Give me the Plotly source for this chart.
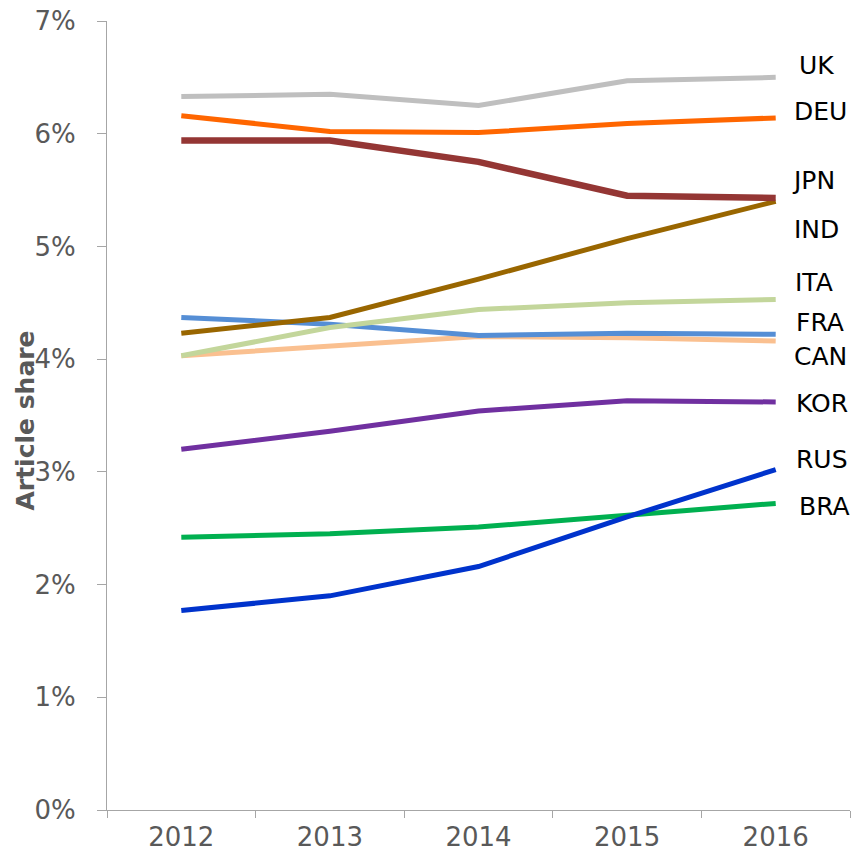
import plotly.graph_objects as go

# Article share by country, 2012-2016 (percent)
years = ["2012", "2013", "2014", "2015", "2016"]

uk = [6.33, 6.35, 6.25, 6.47, 6.50]
deu = [6.16, 6.02, 6.01, 6.09, 6.14]
jpn = [5.94, 5.94, 5.75, 5.45, 5.43]
ind = [4.23, 4.37, 4.71, 5.07, 5.40]
ita = [4.03, 4.28, 4.44, 4.50, 4.53]
fra = [4.37, 4.31, 4.21, 4.23, 4.22]
can = [4.03, 4.12, 4.20, 4.19, 4.16]
kor = [3.20, 3.36, 3.54, 3.63, 3.62]
rus = [1.77, 1.90, 2.16, 2.60, 3.02]
bra = [2.42, 2.45, 2.51, 2.61, 2.72]

y_ticks = [0, 1, 2, 3, 4, 5, 6, 7]
y_tick_labels = ["0%", "1%", "2%", "3%", "4%", "5%", "6%", "7%"]

# name, values, colour, line width, label shift (px: x, y)
series = [
    ("CAN", can, "#FAC090", 5, 16, -15),
    ("FRA", fra, "#558ED5", 5, 18, 12),
    ("ITA", ita, "#C3D69B", 5, 17, 17),
    ("IND", ind, "#996600", 5, 16, -28),
    ("KOR", kor, "#7030A0", 5, 18, -2),
    ("BRA", bra, "#00B050", 5, 21, -3),
    ("RUS", rus, "#0033CC", 5, 18, 10),
    ("UK", uk, "#BFBFBF", 5, 21, 12),
    ("DEU", deu, "#FF6600", 5, 16, 6),
    ("JPN", jpn, "#943634", 6.5, 14, 17),
]

fig = go.Figure()
annotations = []
last_idx = len(years) - 1
for name, vals, color, width, xshift, yshift in series:
    fig.add_trace(go.Scatter(
        x=years, y=vals, mode="lines", name=name,
        line=dict(color=color, width=width),
        hoverinfo="skip",
    ))
    annotations.append(dict(
        x=last_idx, y=vals[-1], xref="x", yref="y",
        text=name, showarrow=False, xanchor="left", yanchor="middle",
        xshift=xshift, yshift=yshift,
        font=dict(family="DejaVu Sans", size=25, color="#000000"),
    ))

# rotated axis title, allowed to sit over the tick labels
annotations.append(dict(
    x=-0.11, y=0.494, xref="paper", yref="paper",
    text="<b>Article share</b>", textangle=-90, showarrow=False,
    xanchor="center", yanchor="middle",
    font=dict(family="DejaVu Sans", size=25, color="#595959"),
))

axis_grey = "#A6A6A6"
tick_font = dict(family="DejaVu Sans", size=26, color="#595959")

fig.update_layout(
    width=853, height=856,
    margin=dict(l=107, r=3, t=21, b=46),
    paper_bgcolor="white", plot_bgcolor="white",
    showlegend=False,
    annotations=annotations,
    xaxis=dict(
        type="category", categoryorder="array", categoryarray=years,
        range=[-0.5, 4.5],
        tickson="boundaries", ticks="outside", ticklen=7, tickcolor=axis_grey,
        showline=True, linecolor=axis_grey, linewidth=1.3,
        showgrid=False, zeroline=False,
        tickfont=tick_font, ticklabelstandoff=4,
    ),
    yaxis=dict(
        range=[0, 7], tickvals=y_ticks, ticktext=y_tick_labels,
        ticks="outside", ticklen=9, tickcolor=axis_grey,
        showline=True, linecolor=axis_grey, linewidth=1.3,
        showgrid=False, zeroline=False,
        tickfont=tick_font, ticklabelstandoff=16,
    ),
)

fig.write_html("out.html")
